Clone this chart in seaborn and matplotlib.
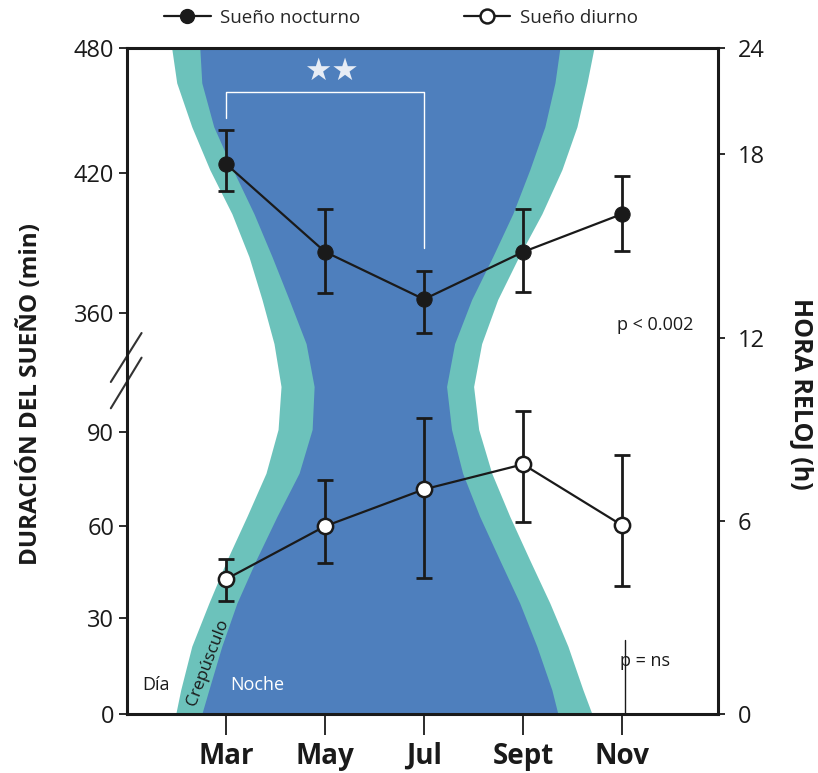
import numpy as np
import pandas as pd
import seaborn as sns
import matplotlib.pyplot as plt
from matplotlib.lines import Line2D

# Datos
meses = ["Mar", "May", "Jul", "Sept", "Nov"]

nocturno = [424.3, 386.1, 365.7, 386.0, 402.3]
nocturno_sup = [440.6, 404.6, 378.0, 404.6, 418.7]
nocturno_inf = [412.3, 368.6, 351.2, 369.0, 386.4]

diurno = [42.7, 60.0, 71.8, 79.8, 60.3]
diurno_sup = [49.2, 74.7, 94.8, 96.9, 82.7]
diurno_inf = [35.5, 47.9, 43.2, 61.3, 40.6]

# eje izquierdo cortado: minutos -> posición vertical
min_nodos = [0, 30, 60, 90, 100, 340, 360, 420, 480]
min_pos = [0, 96, 188, 282, 313, 355, 402, 542, 667]
# eje derecho (hora reloj)
hora_nodos = [0, 6, 12, 18, 24]
hora_pos = [0, 193, 377, 561, 667]

# bordes del fondo noche / crepúsculo (x = índice de mes, y = hora)
borde_horas = [24, 22.02, 19.53, 17.48, 16.04, 14.64, 13.24, 11.80, 10.40,
               9.00, 7.57, 6.16, 4.79, 3.45, 2.11, 0.75, 0]
izq_crep = [-0.547, -0.496, -0.344, -0.162, 0.061, 0.233, 0.365, 0.486, 0.557,
            0.527, 0.405, 0.213, 0.010, -0.172, -0.344, -0.456, -0.506]
izq_noche = [-0.263, -0.243, -0.122, 0.071, 0.284, 0.466, 0.638, 0.810, 0.891,
             0.871, 0.739, 0.516, 0.304, 0.111, -0.041, -0.172, -0.243]
der_noche = [3.372, 3.322, 3.220, 3.068, 2.896, 2.694, 2.481, 2.309, 2.228,
             2.278, 2.390, 2.562, 2.765, 2.967, 3.139, 3.291, 3.352]
der_crep = [3.716, 3.646, 3.544, 3.392, 3.190, 2.957, 2.744, 2.582, 2.501,
            2.552, 2.684, 2.866, 3.068, 3.271, 3.453, 3.605, 3.696]

AZUL = "#4e7fbd"
TURQ = "#6cc2bb"
NEGRO = "#1a1a1a"

sns.set_style("ticks")
plt.rcParams['font.family'] = ['Open Sans', 'DejaVu Sans']

df = pd.DataFrame({"mes": np.arange(len(meses)), "nocturno": nocturno, "diurno": diurno})

fig, ax = plt.subplots(figsize=(8.18, 7.73), dpi=100)
fig.subplots_adjust(left=0.155, right=0.878, bottom=0.0763, top=0.938)

fwd_min = lambda v: np.interp(v, min_nodos, min_pos)
inv_min = lambda p: np.interp(p, min_pos, min_nodos)
fwd_h = lambda v: np.interp(v, hora_nodos, hora_pos)
inv_h = lambda p: np.interp(p, hora_pos, hora_nodos)

ax.set_yscale("function", functions=(fwd_min, inv_min))
ax2 = ax.twinx()
ax2.set_yscale("function", functions=(fwd_h, inv_h))

# fondo: día / crepúsculo / noche
ax2.fill_betweenx(borde_horas, izq_crep, der_crep, color=TURQ, lw=0)
ax2.fill_betweenx(borde_horas, izq_noche, der_noche, color=AZUL, lw=0)
ax2.plot([4.03, 4.03], [0, 2.3], color=NEGRO, lw=1)
ax2.text(-0.709, 0.9, "Día", ha="center", va="center", fontsize=13, color=NEGRO)
ax2.text(0.314, 0.9, "Noche", ha="center", va="center", fontsize=13, color="white")
ax2.text(-0.18, 1.6, "Crepúsculo", ha="center", va="center", fontsize=12.5, color=NEGRO, rotation=69)

ax.set_zorder(ax2.get_zorder() + 1)
ax.patch.set_visible(False)

# datos
x = df["mes"].values
ax.errorbar(x, nocturno, yerr=[np.subtract(nocturno, nocturno_inf), np.subtract(nocturno_sup, nocturno)],
            fmt="none", ecolor=NEGRO, elinewidth=2, capsize=6, capthick=2, zorder=2)
ax.errorbar(x, diurno, yerr=[np.subtract(diurno, diurno_inf), np.subtract(diurno_sup, diurno)],
            fmt="none", ecolor=NEGRO, elinewidth=2, capsize=6, capthick=2, zorder=2)
sns.lineplot(data=df, x="mes", y="nocturno", ax=ax, color=NEGRO, lw=1.6, marker="o",
             markersize=11, markeredgecolor=NEGRO, zorder=3)
sns.lineplot(data=df, x="mes", y="diurno", ax=ax, color=NEGRO, lw=1.6, marker="o",
             markersize=11, markerfacecolor="white", markeredgecolor=NEGRO, markeredgewidth=1.8, zorder=3)

# significancia
ax.plot([0, 0, 2, 2], [446.4, 458.9, 458.9, 387.9], color="white", lw=1)
ax.text(1.07, 468.5, "★★", ha="center", va="center", fontsize=22, color="#e6ecf5", family="DejaVu Sans")
ax.text(0.893, 0.584, "p < 0.002", transform=ax.transAxes, ha="center", va="center", fontsize=13, color=NEGRO)
ax.text(0.876, 0.080, "p = ns", transform=ax.transAxes, ha="center", va="center", fontsize=13, color=NEGRO)

# ejes
ax.set_xlim(-1, 4.97)
ax.set_ylim(0, 480)
ax2.set_ylim(0, 24)
ax.set_xticks(x, meses)
for t in ax.get_xticklabels():
    t.set_fontweight("bold")
ax.set_yticks([0, 30, 60, 90, 360, 420, 480])
ax2.set_yticks(hora_nodos)
ax.tick_params(axis="x", length=15, width=1.3, labelsize=20, pad=5, colors=NEGRO)
ax.tick_params(axis="y", length=6, width=1.3, labelsize=17, pad=3, colors=NEGRO)
ax2.tick_params(axis="y", length=5, width=1.3, labelsize=17, pad=9, colors=NEGRO)
ax.set_xlabel("")
ax.set_ylabel("DURACIÓN DEL SUEÑO (min)", fontsize=17.5, fontweight="bold", color=NEGRO)
ax.yaxis.set_label_coords(-0.142, 0.48)
ax2.set_ylabel("HORA RELOJ (h)", fontsize=18, fontweight="bold", color=NEGRO, rotation=-90, va="center")
ax2.yaxis.set_label_coords(1.139, 0.48)

for s in ["left", "bottom", "top"]:
    ax.spines[s].set_visible(True)
    ax.spines[s].set_linewidth(2.2)
    ax.spines[s].set_color(NEGRO)
ax.spines["right"].set_visible(False)
for s in ["left", "bottom", "top"]:
    ax2.spines[s].set_visible(False)
ax2.spines["right"].set_linewidth(2.2)
ax2.spines["right"].set_color(NEGRO)

# marcas del corte
for y0, y1 in [(0.4985, 0.572), (0.459, 0.535)]:
    ax.plot([-0.027, 0.025], [y0, y1], transform=ax.transAxes, color="#333333", lw=1.5, clip_on=False)

handles = [
    Line2D([], [], color=NEGRO, lw=1.6, marker="o", markersize=10),
    Line2D([], [], color=NEGRO, lw=1.6, marker="o", markersize=10, markerfacecolor="white", markeredgewidth=1.8),
]
fig.legend(handles, ["Sueño nocturno", "Sueño diurno"], loc="center", bbox_to_anchor=(0.49, 0.977),
           ncol=2, frameon=False, fontsize=13.5, columnspacing=5.5, handlelength=2.5, handletextpad=0.5)

fig.savefig("out.png", dpi=100)
